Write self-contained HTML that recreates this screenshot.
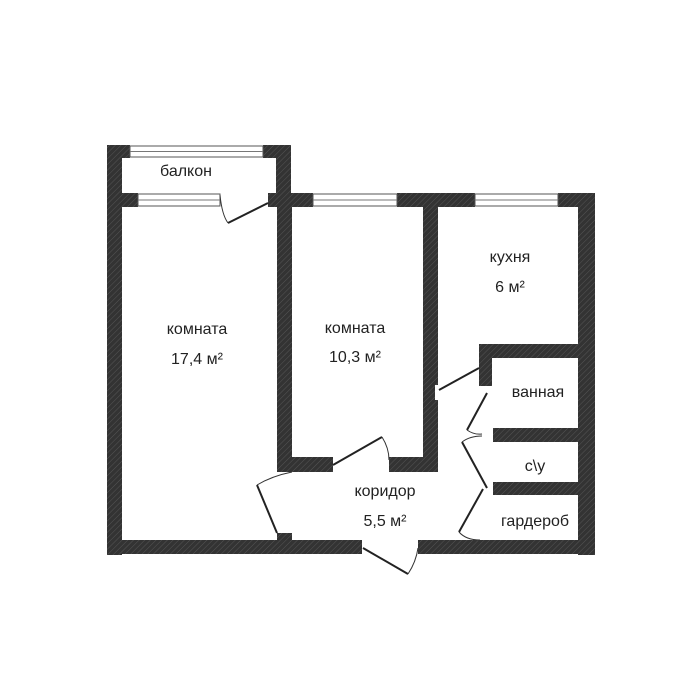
<!DOCTYPE html>
<html><head><meta charset="utf-8"><style>
html,body{margin:0;padding:0;background:#fff;width:700px;height:700px;overflow:hidden}
text{font-family:"Liberation Sans Narrow","Liberation Sans",sans-serif;font-size:16px;fill:#222;text-anchor:middle}
</style></head><body>
<svg width="700" height="700" viewBox="0 0 700 700" xmlns="http://www.w3.org/2000/svg">
<defs>
<pattern id="h" width="4" height="4" patternUnits="userSpaceOnUse" patternTransform="rotate(45)">
<rect width="4" height="4" fill="#333"/><line x1="0" y1="0" x2="0" y2="4" stroke="#555" stroke-width="1"/>
</pattern>
</defs>
<g fill="url(#h)">
<rect x="107" y="145" width="23" height="13"/>
<rect x="263" y="145" width="28" height="13"/>
<rect x="107" y="145" width="15" height="410"/>
<rect x="276" y="145" width="15" height="62"/>
<rect x="107" y="193" width="31" height="14"/>
<rect x="268" y="193" width="45" height="14"/>
<rect x="397" y="193" width="78" height="14"/>
<rect x="558" y="193" width="37" height="14"/>
<rect x="578" y="193" width="17" height="362"/>
<rect x="277" y="193" width="15" height="279"/>
<rect x="423" y="193" width="15" height="279"/>
<rect x="277" y="457" width="56" height="15"/>
<rect x="389" y="457" width="49" height="15"/>
<rect x="479" y="344" width="116" height="14"/>
<rect x="479" y="344" width="13" height="42"/>
<rect x="493" y="428" width="85" height="14"/>
<rect x="493" y="482" width="85" height="13"/>
<rect x="107" y="540" width="255" height="14"/>
<rect x="418" y="540" width="177" height="14"/>
<rect x="277" y="533" width="15" height="8"/>
</g>
<rect x="435" y="385" width="5" height="15" fill="#fff"/>
<g fill="#fff" stroke="#555" stroke-width="1">
<rect x="130" y="146" width="133" height="11"/>
<rect x="138" y="194" width="82" height="12"/>
<rect x="313" y="194" width="84" height="12"/>
<rect x="475" y="194" width="83" height="12"/>
</g>
<g stroke="#777" stroke-width="1">
<line x1="130" y1="151.5" x2="263" y2="151.5"/><line x1="138" y1="200" x2="220" y2="200"/>
<line x1="313" y1="200" x2="397" y2="200"/><line x1="475" y1="200" x2="558" y2="200"/>
</g>
<g stroke="#222" stroke-width="2" fill="none">
<line x1="268" y1="203" x2="228" y2="223"/>
<line x1="277" y1="533" x2="257" y2="485"/>
<line x1="333" y1="465" x2="382" y2="437"/>
<line x1="363" y1="548" x2="408" y2="574"/>
<line x1="439" y1="390" x2="479" y2="368"/>
<line x1="487" y1="393" x2="467" y2="430"/>
<line x1="487" y1="488" x2="462" y2="442"/>
<line x1="483" y1="489" x2="459" y2="532"/>
</g>
<g stroke="#333" stroke-width="1" fill="none">
<path d="M220 195 Q222 215 228 223"/>
<path d="M257 485 Q272 476 292 472"/>
<path d="M382 437 Q389 448 389 460"/>
<path d="M408 574 Q416 562 418 548"/>
<path d="M467 430 Q474 435 482 434"/>
<path d="M462 442 Q470 436 482 436"/>
<path d="M459 532 Q466 540 480 540"/>
</g>
<text x="186" y="176">балкон</text>
<text x="197" y="334">комната</text>
<text x="197" y="364">17,4 м²</text>
<text x="355" y="333">комната</text>
<text x="355" y="362">10,3 м²</text>
<text x="510" y="262">кухня</text>
<text x="510" y="292">6 м²</text>
<text x="538" y="397">ванная</text>
<text x="535" y="471">с\у</text>
<text x="385" y="496">коридор</text>
<text x="385" y="526">5,5 м²</text>
<text x="535" y="526">гардероб</text>
</svg>
</body></html>
